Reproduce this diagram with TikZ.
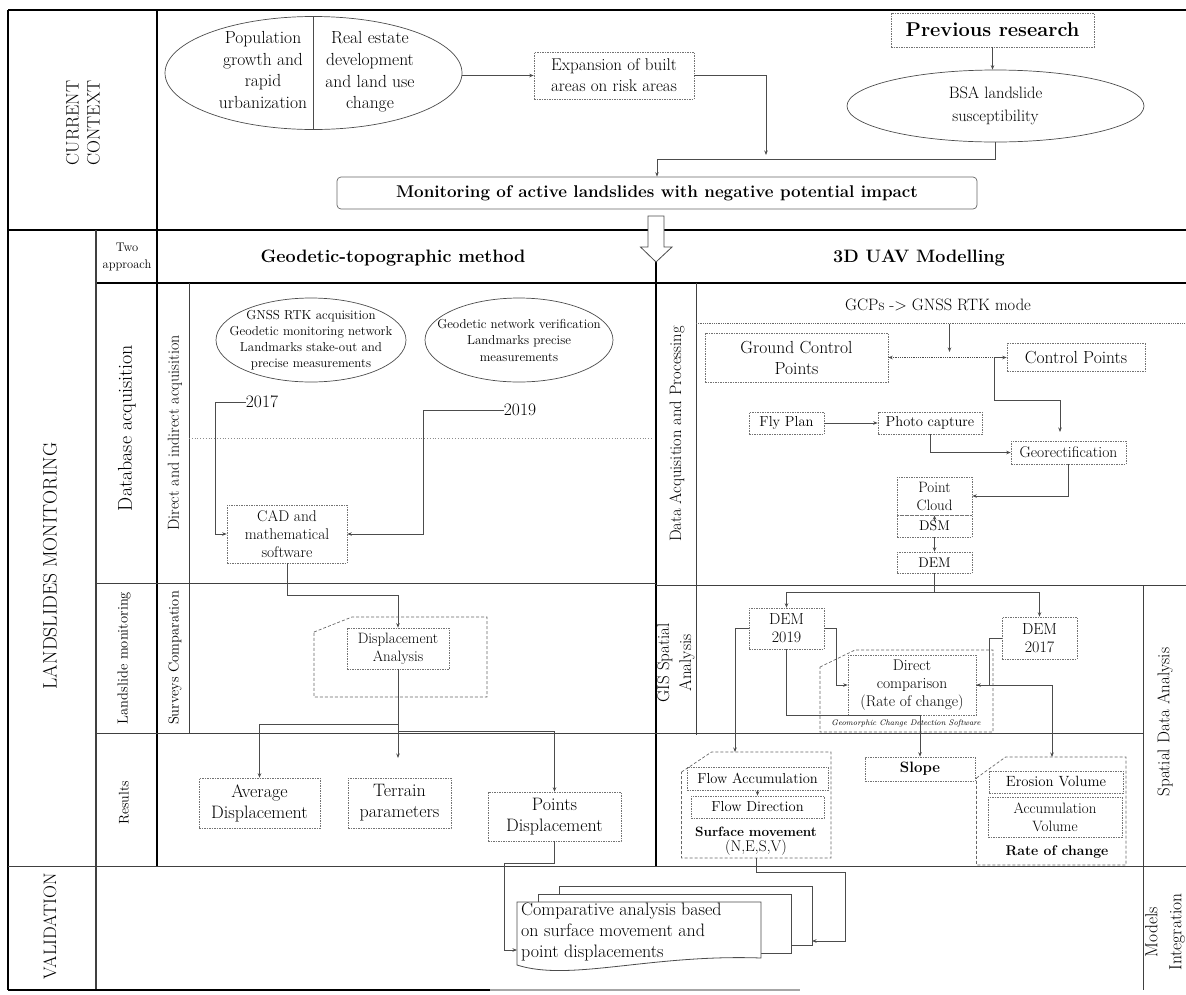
\documentclass[tikz,border=0pt]{standalone}
\usepackage{fontspec}
\usetikzlibrary{arrows.meta,shapes.geometric,calc}
\newcommand{\fs}[2]{\fontsize{#1}{#2}\selectfont}
\begin{document}
\begin{tikzpicture}[x=1pt,y=-1pt,
 thickframe/.style={line width=2pt, draw=black},
 thinframe/.style={line width=0.8pt, draw=black!75},
 dbox/.style={draw=black!55, dash pattern=on 1.5pt off 1pt, line width=0.6pt, align=center, inner sep=0pt},
 obox/.style={draw=black!60, dash pattern=on 3pt off 2pt, line width=0.7pt},
 conn/.style={draw=black!70, line width=0.8pt},
 arr/.style={conn, -{Stealth[length=4.5pt,width=3.5pt]}},
 darr/.style={conn, {Stealth[length=4.5pt,width=3.5pt]}-{Stealth[length=4.5pt,width=3.5pt]}},
 txt/.style={align=center, inner sep=0pt},
 ell/.style={ellipse, draw=black!70, line width=0.7pt, inner sep=0pt}]
\useasboundingbox (0,0) rectangle (1186,994);

% ---------- frame ----------
\draw[thickframe] (8,10) -- (1186,10);
\draw[thickframe] (8,10) -- (8,990);
\draw[thickframe] (157,10) -- (157,866);
\draw[thickframe] (8,230) -- (1186,230);
\draw[thickframe] (96,283) -- (1186,283);
\draw[thickframe] (656,262) -- (656,866);
\draw[thinframe, line width=1.2pt] (96,230) -- (96,990);
\draw[thinframe] (189,283) -- (189,733);
\draw[thinframe] (96,583) -- (656,583);
\draw[thinframe] (656,585) -- (1186,585);
\draw[thinframe] (96,733) -- (1143,733);
\draw[thinframe] (8,866) -- (1186,866);
\draw[thinframe] (696,283) -- (696,735);
\draw[thinframe] (1143,585) -- (1143,990);
\draw[thickframe] (8,990) -- (490,990);
\draw[line width=2pt, black!35] (490,990) -- (800,990);
\draw[black!45, dotted, line width=0.8pt] (189,438) -- (652,438);
\draw[black!60, densely dotted, line width=0.8pt] (696,323) -- (1186,323);

% hollow arrow
\draw[black!70, fill=white, line width=0.8pt] (648,216) -- (664,216) -- (664,247) -- (672,247) -- (656,262) -- (640.5,247) -- (648,247) -- cycle;

% ---------- side labels ----------
\node[txt, rotate=90, font=\fs{18}{21}] (lcc) at (83,123) {CURRENT\\CONTEXT};
\node[txt, rotate=90, font=\fs{19.5}{22}] (llm) at (50,566) {LANDSLIDES MONITORING};
\node[txt, rotate=90, font=\fs{18}{21}] (lval) at (50,926) {VALIDATION};
\node[txt, font=\fs{12.5}{17}] (ltwo) at (127,257) {Two\\approach};
\node[txt, rotate=90, font=\fs{20}{22}] (ldb) at (127,428) {Database acquisition};
\node[txt, rotate=90, font=\fs{16}{18}] (ldi) at (175,433) {Direct and indirect acquisition};
\node[txt, rotate=90, font=\fs{14.5}{17}] (llsm) at (124,658) {Landslide monitoring};
\node[txt, rotate=90, font=\fs{14.5}{17}] (lsc) at (175,658) {Surveys Comparation};
\node[txt, rotate=90, font=\fs{14}{17}] (lres) at (124,803) {Results};
\node[txt, rotate=90, font=\fs{16.5}{18}] (ldap) at (677,434) {Data Acquisition and Processing};
\node[txt, rotate=90, font=\fs{17}{22}] (lgis) at (676,663) {GIS Spatial\\Analysis};
\node[txt, rotate=90, font=\fs{17}{20}] (lsda) at (1165,722) {Spatial Data Analysis};
\node[txt, rotate=90, font=\fs{17.5}{24}] (lmi) at (1165,932) {Models\\Integration};
\node[txt, font=\bfseries\fs{18}{21}] (hgeo) at (393,258) {Geodetic-topographic method};
\node[txt, font=\bfseries\fs{18}{21}] (huav) at (919,258) {3D UAV Modelling};

% ---------- current context ----------
\node[ell, minimum width=297, minimum height=113] (pop) at (313.5,73) {};
\draw[black!70, line width=0.7pt] (pop.north) -- (pop.south);
\node[txt, font=\fs{17.5}{21.7}] (popL) at (263,70) {Population\\growth and\\rapid\\urbanization};
\node[txt, font=\fs{17.5}{21.7}] (popR) at (370,72) {Real estate\\development\\and land use\\change};
\node[dbox, minimum width=160, minimum height=47, font=\fs{17}{21}] (exp) at (614,75.5) {Expansion of built\\areas on risk areas};
\node[dbox, minimum width=203, minimum height=34, font=\bfseries\fs{20}{24}] (prev) at (992.5,30) {Previous research};
\node[ell, minimum width=297, minimum height=72, align=center, font=\fs{16.5}{23}] (bsa) at (995.5,106) {BSA landslide\\susceptibility};
\node[draw=black!60, line width=0.7pt, rounded corners=4pt, minimum width=640, minimum height=32, inner sep=0pt, font=\bfseries\fs{17}{20}] (mon) at (657,193) {Monitoring of active landslides with negative potential impact};
\coordinate (expEnd) at (766,155);
\draw[arr] (pop.east |- exp.west) -- (exp.west);
\draw[arr] (exp.east) -| (expEnd);
\draw[arr] (prev.south) -- (prev.south |- bsa.north);
\draw[arr] (bsa.south) -- ++(0,17) -| (mon.north);

% ---------- geodetic: database acquisition ----------
\node[ell, minimum width=190, minimum height=84] (gn1) at (311,340) {};
\node[txt, font=\fs{13}{16}] (gn1t) at (gn1) {GNSS RTK acquisition\\Geodetic monitoring network\\Landmarks stake-out and\\precise measurements};
\node[ell, minimum width=188, minimum height=84] (gn2) at (519,340) {};
\node[txt, font=\fs{13}{16.5}] (gn2t) at (gn2) {Geodetic network verification\\Landmarks precise\\measurements};
\node[txt, font=\fs{17.5}{20}] (y17) at (262,402) {2017};
\node[txt, font=\fs{17.5}{20}] (y19) at (520,410) {2019};
\node[dbox, minimum width=120, minimum height=58, font=\fs{15.5}{18}] (cad) at (287,534) {CAD and\\mathematical\\software};
\draw[arr] (y17.west) -- ++(-30,0) |- (cad.west);
\draw[arr] (y19.west) -- ++(-80,0) |- (cad.east);

% ---------- geodetic: monitoring ----------
\draw[obox] (314,632) -- (352,617) -- (487,617) -- (487,697) -- (314,697) -- cycle;
\node[dbox, minimum width=102, minimum height=41, font=\fs{15}{18}] (disp) at (398,648.5) {Displacement\\Analysis};
\draw[arr] (cad.south) -- ++(0,32) -| (disp.north);

% ---------- geodetic: results ----------
\node[dbox, minimum width=121, minimum height=50, font=\fs{18}{21}] (avg) at (259.5,803) {Average\\Displacement};
\node[dbox, minimum width=103, minimum height=50, font=\fs{18}{21}] (terr) at (399.5,803) {Terrain\\parameters};
\node[dbox, minimum width=133, minimum height=49, font=\fs{18}{21}] (pts) at (554.5,816.5) {Points\\Displacement};
\coordinate (terrEnd) at (398,758);
\draw[arr] (disp.south) -- ++(0,55) -| (avg.north);
\draw[arr] (disp.south) -- (terrEnd);
\draw[arr] (disp.south) -- ++(0,62) -| (pts.north);

% ---------- UAV: acquisition ----------
\node[txt, font=\fs{16.5}{20}] (gcps) at (938,305) {GCPs -> GNSS RTK mode};
\coordinate (gtop) at (949.5,324);
\coordinate (gbot) at (949.5,352);
\draw[arr] (gtop) -- (gbot);
\node[dbox, minimum width=183, minimum height=49, font=\fs{17.5}{21}] (gcp) at (796.5,357.5) {Ground Control\\Points};
\node[dbox, minimum width=138, minimum height=28, font=\fs{17.5}{21}] (cp) at (1076,357.5) {Control Points};
\coordinate (split) at (994.6,357.5);
\coordinate (geoIn) at (1060,432);
\draw[conn, densely dotted, {Stealth[length=4.5pt,width=3.5pt]}-] (gcp.east) -- (split);
\draw[arr] (split) -- (cp.west);
\draw[arr] (split) -- ++(0,43) -| (geoIn);
\node[dbox, minimum width=75, minimum height=22, font=\fs{14.5}{17}] (fly) at (786.5,423) {Fly Plan};
\node[dbox, minimum width=104, minimum height=22, font=\fs{14.5}{17}] (photo) at (930,423) {Photo capture};
\node[dbox, minimum width=115, minimum height=23, font=\fs{15.5}{18}] (geo) at (1068.5,452.5) {Georectification};
\node[dbox, minimum width=75, minimum height=38, font=\fs{15}{18}] (pc) at (934.5,496) {Point\\Cloud};
\node[dbox, minimum width=75, minimum height=22, font=\fs{14}{17}] (dsm) at (934.5,526) {DSM};
\node[dbox, minimum width=75, minimum height=21, font=\fs{14}{17}] (dem) at (934.5,562.5) {DEM};
\draw[arr] (fly.east) -- (photo.west);
\draw[arr] (photo.south) |- (geo.west);
\draw[arr] (geo.south) |- (pc.east);
\draw[arr] ($(dsm.north)+(0,6)$) -- (pc.south);
\draw[arr] (dsm.south) -- (dem.north);

% ---------- UAV: GIS spatial analysis ----------
\draw[obox] (820,667) -- (855,650) -- (993,650) -- (993,732) -- (820,732) -- cycle;
\node[txt, font=\itshape\fs{8}{10}] (gcd) at (906,723) {Geomorphic Change Detection Software};
\node[dbox, minimum width=75, minimum height=41, font=\fs{16}{18}] (dem19) at (786.5,628.5) {DEM\\2019};
\node[dbox, minimum width=75, minimum height=42, font=\fs{16}{18}] (dem17) at (1039.5,638) {DEM\\2017};
\node[dbox, minimum width=128, minimum height=60, font=\fs{15.5}{18}] (direct) at (912,685) {Direct\\comparison\\(Rate of change)};
\draw[arr] (dem.south) -- ++(0,19) -| (dem19.north);
\draw[arr] (dem.south) -- ++(0,19) -| (dem17.north);
\draw[arr] (dem19.east) -- ++(11.6,0) |- (direct.west);
\draw[arr] (dem17.west) -- ++(-12.5,0) |- (direct.east);

% ---------- UAV: results ----------
\draw[obox] (681.5,772) -- (711.5,752) -- (831,752) -- (831,858) -- (681.5,858) -- cycle;
\draw[obox] (976.5,778) -- (1005.6,757) -- (1126,757) -- (1126,865) -- (976.5,865) -- cycle;
\node[dbox, minimum width=141, minimum height=23, font=\fs{14.5}{17}] (facc) at (757.5,778.5) {Flow Accumulation};
\node[dbox, minimum width=133, minimum height=22, font=\fs{14.5}{17}] (fdir) at (757.5,807) {Flow Direction};
\node[txt, font=\bfseries\fs{13.5}{16}] (smv) at (756,832) {Surface movement};
\node[txt, font=\fs{15.5}{18}] (nesv) at (756,848) {(N,E,S,V)};
\node[dbox, minimum width=110, minimum height=24, font=\bfseries\fs{15}{18}] (slope) at (920,769) {Slope};
\node[dbox, minimum width=134, minimum height=22, font=\fs{14.8}{17}] (eros) at (1056,782) {Erosion Volume};
\node[dbox, minimum width=134, minimum height=40, font=\fs{15}{18}] (accv) at (1055,817) {Accumulation\\Volume};
\node[txt, font=\bfseries\fs{14}{17}] (roc) at (1057,852) {Rate of change};
\draw[arr] (facc.south) -- (fdir.north);
\coordinate (smTop) at (735,752);
\coordinate (rateTop) at (1052,757);
\draw[arr] (dem19.west) -| (smTop);
\draw[arr] (dem19.south) -- ++(0,66) -| (slope.north);
\draw[arr] (direct.east) -| (rateTop);

% ---------- validation ----------
\draw[conn, fill=white] (559,886) rectangle (812,945);
\draw[conn, fill=white] (538,894) rectangle (791,953);
\draw[conn, fill=white] (517,902) -- (761,902) -- (761,958) .. controls (650,954) and (570,982) .. (517,965) -- cycle;
\node[txt, align=left, anchor=north west, font=\fs{18}{21}] (cmp) at (521,903) {Comparative analysis based\\on surface movement and\\point displacements};
\coordinate (cmpL) at (517,950);
\coordinate (cmpR) at (812,941);
\coordinate (smBot) at (756,858);
\draw[arr] (pts.south) -- ++(0,22) -- ++(-50.5,0) |- (cmpL);
\draw[arr] (smBot) -- ++(0,14) -- ++(89,0) |- (cmpR);
\end{tikzpicture}
\end{document}
